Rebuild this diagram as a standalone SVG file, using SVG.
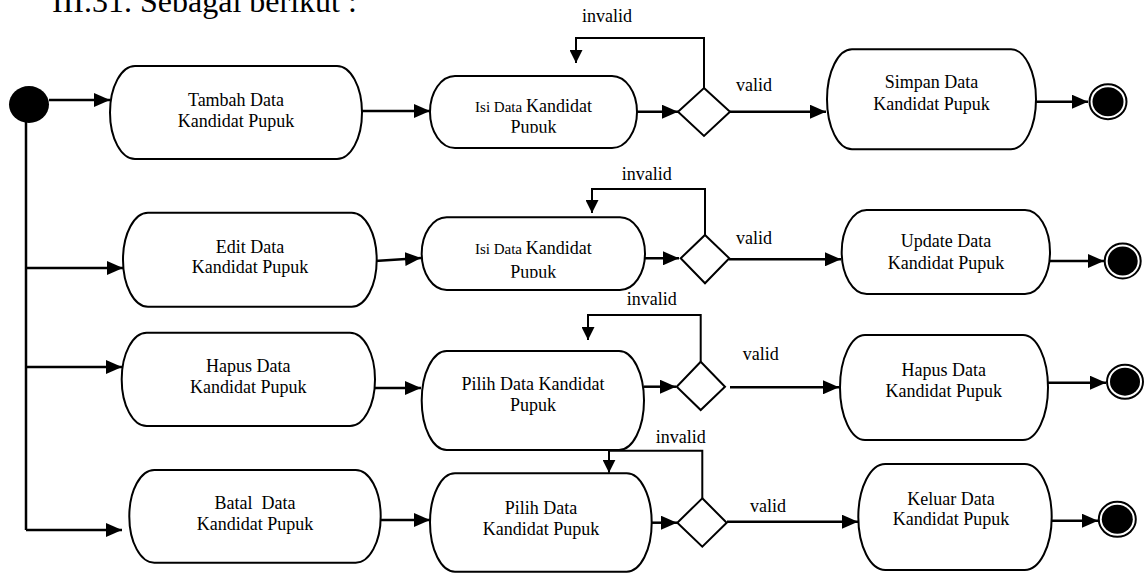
<svg xmlns="http://www.w3.org/2000/svg" width="1144" height="573" viewBox="0 0 1144 573">
<style>
.n{fill:#fff;stroke:#000;stroke-width:2}
.t{font-family:"Liberation Serif","Times New Roman",serif;font-size:18px;fill:#000;text-anchor:middle}
.l{font-family:"Liberation Serif","Times New Roman",serif;font-size:18px;fill:#000}
.c{fill:none;stroke:#000;stroke-width:2.5}
.lp{fill:none;stroke:#000;stroke-width:2}
.s{font-size:15px}
</style>
<defs>
<marker id="ah" viewBox="0 0 16 14" refX="16" refY="7" markerWidth="16" markerHeight="14" markerUnits="userSpaceOnUse" orient="auto"><path d="M0,0 L16,7 L0,14 z" fill="#000"/></marker>
<marker id="ad" viewBox="0 0 13 13" refX="13" refY="6.5" markerWidth="13" markerHeight="13" markerUnits="userSpaceOnUse" orient="auto"><path d="M0,0 L13,6.5 L0,13 z" fill="#000"/></marker>
<clipPath id="clip1"><rect x="420" y="60" width="230" height="72.7"/></clipPath>
<clipPath id="clip2"><rect x="420" y="200" width="230" height="77.7"/></clipPath>
</defs>
<text x="52" y="12" style="font-family:'Liberation Serif','Times New Roman',serif;font-size:32px">III.31. Sebagai berikut :</text>
<g id="connectors">
<path class="c" d="M26,120 V530"/>
<path class="c" d="M49,100 H110" marker-end="url(#ah)"/>
<path class="c" d="M362,111 H430" marker-end="url(#ah)"/>
<path class="c" d="M637,111.7 H678" marker-end="url(#ah)"/>
<path class="lp" d="M704,88 V38 H576 V63" marker-end="url(#ad)"/>
<path class="c" d="M730,111.7 H826" marker-end="url(#ah)"/>
<path class="c" d="M1036,101.7 H1088" marker-end="url(#ah)"/>
<path class="c" d="M26,268 H123" marker-end="url(#ah)"/>
<path class="c" d="M375,261 L421,258" marker-end="url(#ah)"/>
<path class="c" d="M645,258.3 H679" marker-end="url(#ah)"/>
<path class="lp" d="M705,235 V189 H592 V213" marker-end="url(#ad)"/>
<path class="c" d="M729,259.3 H841" marker-end="url(#ah)"/>
<path class="c" d="M1050,261 H1104" marker-end="url(#ah)"/>
<path class="c" d="M26,367 H122" marker-end="url(#ah)"/>
<path class="c" d="M375,388 H421" marker-end="url(#ah)"/>
<path class="c" d="M644,386.7 H676" marker-end="url(#ah)"/>
<path class="lp" d="M700.7,361.7 V315 H588 V340" marker-end="url(#ad)"/>
<path class="c" d="M730,387.3 H839" marker-end="url(#ah)"/>
<path class="c" d="M1048,382.7 H1106" marker-end="url(#ah)"/>
<path class="c" d="M26,530 H122" marker-end="url(#ah)"/>
<path class="c" d="M380,520 H430" marker-end="url(#ah)"/>
<path class="c" d="M648,522.7 H677" marker-end="url(#ah)"/>
<path class="lp" d="M702.3,498.3 V450.7 H609 V472.7" marker-end="url(#ad)"/>
<path class="c" d="M727,521.7 H858" marker-end="url(#ah)"/>
<path class="c" d="M1051.7,520.7 H1098" marker-end="url(#ah)"/>
<text class="l" x="607" y="21.7" text-anchor="middle">invalid</text>
<text class="l" x="736" y="91">valid</text>
<text class="l" x="646.7" y="180" text-anchor="middle">invalid</text>
<text class="l" x="736" y="244">valid</text>
<text class="l" x="651.7" y="305" text-anchor="middle">invalid</text>
<text class="l" x="742.7" y="360">valid</text>
<text class="l" x="680.7" y="443.3" text-anchor="middle">invalid</text>
<text class="l" x="750" y="511.7">valid</text>
</g>
<g id="start"><ellipse cx="29" cy="104.5" rx="20" ry="18.5" fill="#000"/></g>
<g id="tambah"><rect class="n" x="110" y="66" width="252" height="93" rx="25" ry="46.5"/><text class="t" x="236" y="106">Tambah Data</text><text class="t" x="236" y="127">Kandidat Pupuk</text></g>
<g id="isi1"><rect class="n" x="430" y="76" width="207" height="72" rx="25" ry="36"/><text class="t" x="533.5" y="111.5"><tspan class="s">Isi Data </tspan>Kandidat</text><text class="t" x="533.5" y="132.5" clip-path="url(#clip1)">Pupuk</text></g>
<g id="dec1"><polygon class="n" points="704,88 730,111.7 704,136 678,111.7"/></g>
<g id="simpan"><rect class="n" x="827" y="49.3" width="209" height="100" rx="25" ry="50"/><text class="t" x="931.5" y="88.3">Simpan Data</text><text class="t" x="931.5" y="110">Kandidat Pupuk</text></g>
<g id="end1"><ellipse class="n" cx="1108" cy="101.7" rx="18.5" ry="17.5"/><ellipse cx="1108" cy="101.7" rx="15.5" ry="14.5" fill="#000"/></g>
<g id="edit"><rect class="n" x="123" y="212.7" width="253.7" height="94" rx="25" ry="47"/><text class="t" x="250" y="252.7">Edit Data</text><text class="t" x="250" y="273.3">Kandidat Pupuk</text></g>
<g id="isi2"><rect class="n" x="421.7" y="217.3" width="223.3" height="72.7" rx="25" ry="36.3"/><text class="t" x="533.3" y="254"><tspan class="s">Isi Data </tspan>Kandidat</text><text class="t" x="533.3" y="277.5" clip-path="url(#clip2)">Pupuk</text></g>
<g id="dec2"><polygon class="n" points="705,235 729.3,258.3 705,283.3 680.7,258.3"/></g>
<g id="update"><rect class="n" x="841.7" y="210" width="208.3" height="84" rx="25" ry="42"/><text class="t" x="946" y="247.3">Update Data</text><text class="t" x="946" y="269">Kandidat Pupuk</text></g>
<g id="end2"><ellipse class="n" cx="1122.7" cy="261" rx="18" ry="17.5"/><ellipse cx="1122.7" cy="261" rx="15" ry="14.5" fill="#000"/></g>
<g id="hapus1"><rect class="n" x="121.7" y="332.7" width="253.3" height="93.3" rx="25" ry="46.6"/><text class="t" x="248.3" y="372.3">Hapus Data</text><text class="t" x="248.3" y="392.7">Kandidat Pupuk</text></g>
<g id="pilih1"><rect class="n" x="421.7" y="351" width="222.3" height="99" rx="25" ry="49.5"/><text class="t" x="533" y="390">Pilih Data Kandidat</text><text class="t" x="533" y="410.7">Pupuk</text></g>
<g id="dec3"><polygon class="n" points="700.7,361.7 725,386.7 700.7,410 676.7,386.7"/></g>
<g id="hapus2"><rect class="n" x="840" y="335" width="208" height="105" rx="25" ry="52.5"/><text class="t" x="943.7" y="376">Hapus Data</text><text class="t" x="943.7" y="397.3">Kandidat Pupuk</text></g>
<g id="end3"><ellipse class="n" cx="1125" cy="381.7" rx="18" ry="17"/><ellipse cx="1125" cy="381.7" rx="15" ry="14" fill="#000"/></g>
<g id="batal"><rect class="n" x="129.3" y="470" width="251.4" height="92.7" rx="25" ry="46.3"/><text class="t" x="255" y="509.3" style="white-space:pre">Batal  Data</text><text class="t" x="255" y="530">Kandidat Pupuk</text></g>
<g id="pilih2"><rect class="n" x="430" y="473.3" width="221.7" height="98.4" rx="25" ry="49.2"/><text class="t" x="541" y="514">Pilih Data</text><text class="t" x="541" y="535">Kandidat Pupuk</text></g>
<g id="dec4"><polygon class="n" points="702.3,498.3 726.7,522.7 702.3,546.7 677.3,522.7"/></g>
<g id="keluar"><rect class="n" x="858.3" y="464" width="193.4" height="106" rx="27" ry="53"/><text class="t" x="951" y="505">Keluar Data</text><text class="t" x="951" y="525">Kandidat Pupuk</text></g>
<g id="end4"><ellipse class="n" cx="1117.3" cy="519.3" rx="18.5" ry="17.5"/><ellipse cx="1117.3" cy="519.3" rx="15.5" ry="14.5" fill="#000"/></g>
</svg>
